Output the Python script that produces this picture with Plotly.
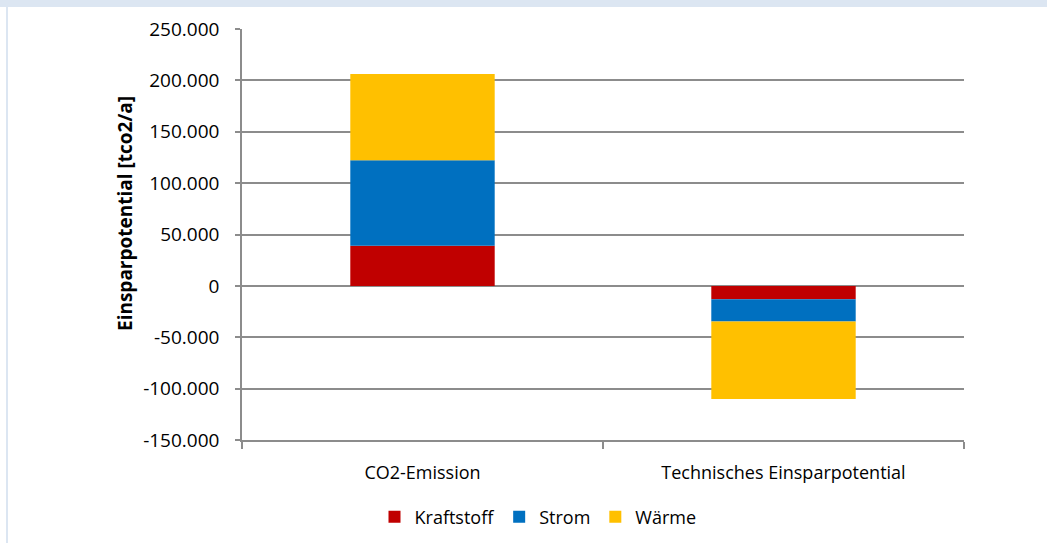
import plotly.graph_objects as go

categories = ["CO2-Emission", "Technisches Einsparpotential"]
kraftstoff = [39000, -13000]
strom = [83200, -21700]
waerme = [83900, -75400]

y_tickvals = [250000, 200000, 150000, 100000, 50000, 0, -50000, -100000, -150000]
y_ticktext = ["250.000", "200.000", "150.000", "100.000", "50.000", "0",
              "-50.000", "-100.000", "-150.000"]

FONT = "Open Sans"
GRID = "#8c8c8c"

fig = go.Figure()
fig.add_trace(go.Bar(name="Kraftstoff", x=categories, y=kraftstoff,
                     marker=dict(color="#C00000", line=dict(width=0))))
fig.add_trace(go.Bar(name="Strom", x=categories, y=strom,
                     marker=dict(color="#0070C0", line=dict(width=0))))
fig.add_trace(go.Bar(name="Wärme", x=categories, y=waerme,
                     marker=dict(color="#FFC000", line=dict(width=0))))

# page frame: light blue strip on top and thin line on the left
L, R, T, B = 242, 83, 29, 103
W, H = 1047, 543
pw, ph = W - L - R, H - T - B


def px_x(p):
    return (p - L) / pw


def px_y(p):
    return (H - B - p) / ph


shapes = [
    dict(type="rect", xref="paper", yref="paper", x0=px_x(0), x1=px_x(W),
         y0=px_y(7), y1=px_y(0), fillcolor="#dce6f2", line=dict(width=0), layer="below"),
    dict(type="rect", xref="paper", yref="paper", x0=px_x(6), x1=px_x(8),
         y0=px_y(H), y1=px_y(7), fillcolor="#dce6f2", line=dict(width=0), layer="below"),
]

fig.update_layout(
    width=W, height=H,
    margin=dict(l=L, r=R, t=T, b=B, autoexpand=False),
    barmode="relative",
    bargap=0.6,
    paper_bgcolor="white",
    plot_bgcolor="white",
    font=dict(family=FONT, size=18, color="black"),
    shapes=shapes,
    showlegend=True,
    legend=dict(orientation="h", x=px_x(538), xanchor="center", y=px_y(517), yanchor="middle",
                traceorder="normal", font=dict(size=18), itemwidth=30),
    annotations=[dict(text="<b>Einsparpotential [tco2/a]</b>", textangle=-90,
                      xref="paper", yref="paper", x=px_x(125), y=px_y(214),
                      xanchor="center", yanchor="middle",
                      showarrow=False, font=dict(size=19))],
)

fig.update_xaxes(
    type="category",
    tickson="boundaries",
    ticks="outside", ticklen=7, tickcolor=GRID, tickwidth=1.5,
    showline=True, linecolor=GRID, linewidth=1.5,
    showgrid=False,
    ticklabelstandoff=16,
    tickfont=dict(size=18),
)
fig.update_yaxes(
    range=[-150000, 250000],
    tickvals=y_tickvals, ticktext=y_ticktext,
    ticks="outside", ticklen=5, tickcolor=GRID, tickwidth=1.5,
    showline=True, linecolor=GRID, linewidth=1.5,
    showgrid=True, gridcolor=GRID, gridwidth=1.5,
    zeroline=False,
    ticklabelstandoff=12,
    tickfont=dict(size=19),
)

page_fix = (
    "document.body.style.margin='0';"
    "document.body.style.overflow='hidden';"
    "document.documentElement.style.overflow='hidden';"
)
fig.write_html("out.html", config={"displayModeBar": False}, post_script=page_fix)
